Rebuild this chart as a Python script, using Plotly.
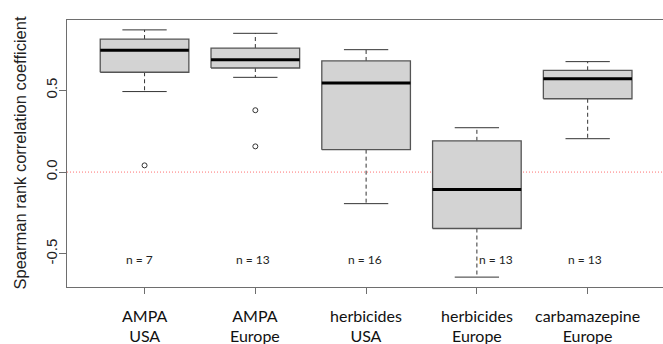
import plotly.graph_objects as go

# ---- data ----
group_main = ["AMPA", "AMPA", "herbicides", "herbicides", "carbamazepine"]
group_region = ["USA", "Europe", "USA", "Europe", "Europe"]
upper_whisker = [0.869, 0.848, 0.748, 0.271, 0.675]
q3_values = [0.813, 0.758, 0.679, 0.191, 0.622]
median_values = [0.744, 0.687, 0.545, -0.106, 0.570]
q1_values = [0.610, 0.636, 0.137, -0.345, 0.448]
lower_whisker = [0.492, 0.579, -0.193, -0.642, 0.204]
outlier_values = [[0.041], [0.378, 0.157], [], [], []]
n_values = [7, 13, 16, 13, 13]

# ---- styling ----
BOX_HALF = 0.4
CAP_HALF = 0.2
FRAME = "#6e6e6e"
EDGE = "#555555"
FILL = "#d3d3d3"
n_label_dx = [-0.045, -0.02, -0.01, 0.175, -0.02]
n_label_y = -0.535
PLOT_H = 344 - 20 - 57
LABEL_Y = -(325.5 - 287) / PLOT_H

fig = go.Figure()

# reference line at zero
fig.add_trace(go.Scatter(x=[0.3, 5.7], y=[0, 0], mode="lines",
                         line=dict(color="#ff7070", width=1, dash="1px,2px"),
                         hoverinfo="skip", showlegend=False))

for i in range(len(group_main)):
    x = i + 1
    # whiskers (dashed)
    fig.add_trace(go.Scatter(x=[x, x, None, x, x],
                             y=[q3_values[i], upper_whisker[i], None, q1_values[i], lower_whisker[i]],
                             mode="lines", line=dict(color="#333333", width=1, dash="4px,3px"),
                             hoverinfo="skip", showlegend=False))
    # caps
    fig.add_trace(go.Scatter(x=[x - CAP_HALF, x + CAP_HALF, None, x - CAP_HALF, x + CAP_HALF],
                             y=[upper_whisker[i], upper_whisker[i], None, lower_whisker[i], lower_whisker[i]],
                             mode="lines", line=dict(color="#333333", width=1),
                             hoverinfo="skip", showlegend=False))
    # box
    fig.add_trace(go.Scatter(x=[x - BOX_HALF, x + BOX_HALF, x + BOX_HALF, x - BOX_HALF, x - BOX_HALF],
                             y=[q1_values[i], q1_values[i], q3_values[i], q3_values[i], q1_values[i]],
                             mode="lines", fill="toself", fillcolor=FILL,
                             line=dict(color=EDGE, width=1.3),
                             hoverinfo="skip", showlegend=False))
    # median
    fig.add_trace(go.Scatter(x=[x - BOX_HALF, x + BOX_HALF], y=[median_values[i], median_values[i]],
                             mode="lines", line=dict(color="black", width=3),
                             hoverinfo="skip", showlegend=False))
    # outliers
    if outlier_values[i]:
        fig.add_trace(go.Scatter(x=[x] * len(outlier_values[i]), y=outlier_values[i],
                                 mode="markers",
                                 marker=dict(symbol="circle-open", size=5, color="#333333",
                                             line=dict(width=1)),
                                 hoverinfo="skip", showlegend=False))
    # n labels
    fig.add_annotation(x=x + n_label_dx[i], y=n_label_y, text=f"n = {n_values[i]}",
                       showarrow=False, font=dict(family="Lato", size=12, color="#222222"))
    # category label: two lines with tight spacing (base font sets line spacing)
    label = (f"<span style='font-size:16px'>{group_main[i]}</span><br>"
             f"<span style='font-size:16px'>{group_region[i]}</span>")
    fig.add_annotation(x=x, xref="x", yref="paper", y=LABEL_Y, text=label,
                       showarrow=False, yanchor="middle",
                       font=dict(family="Lato", size=15.4, color="#111111"))

fig.update_layout(
    width=663, height=344,
    margin=dict(l=67, r=0, t=20, b=57, autoexpand=False),
    plot_bgcolor="white", paper_bgcolor="white",
    showlegend=False,
    xaxis=dict(range=[0.3, 5.68], tickmode="array", tickvals=[1, 2, 3, 4, 5],
               showticklabels=False, showgrid=False, zeroline=False, automargin=False,
               showline=True, mirror=True, linecolor=FRAME, linewidth=1.3,
               ticks="outside", ticklen=6, tickcolor=FRAME),
    yaxis=dict(range=[-0.7024, 0.9294], tickmode="array", tickvals=[-0.5, 0.0, 0.5],
               ticktext=["-0.5", "0.0", "0.5"], tickangle=-90, automargin=False,
               showgrid=False, zeroline=False,
               showline=True, mirror=False, linecolor=FRAME, linewidth=1.3,
               ticks="outside", ticklen=7, tickcolor=FRAME, ticklabelstandoff=-4,
               tickfont=dict(family="Liberation Sans", size=15, color="#222222")),
)

fig.add_annotation(xref="paper", yref="paper", x=-67 / 596 + 19 / 596, y=0.5,
                   text="Spearman rank correlation coefficient", textangle=-90,
                   showarrow=False, xanchor="center", yanchor="middle",
                   font=dict(family="Liberation Sans", size=16.5, color="#222222"))

fig.write_html("out.html")
